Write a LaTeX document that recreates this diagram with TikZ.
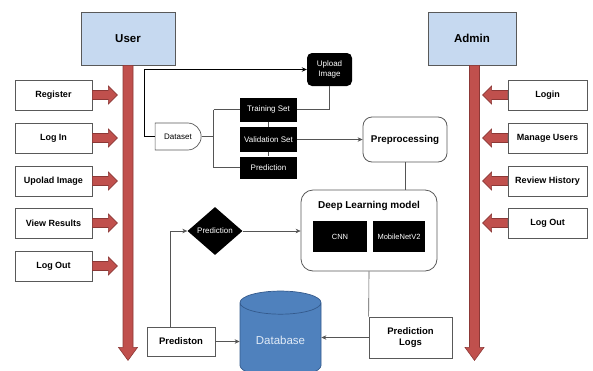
\documentclass[tikz,border=0pt]{standalone}
\usepackage{fontspec}
\setmainfont{Liberation Sans}
\usepackage{tikz}
\usetikzlibrary{arrows.meta,calc,shapes.geometric,shapes.misc}
\definecolor{roleblue}{RGB}{198,217,240}
\definecolor{barred}{RGB}{192,80,77}
\definecolor{bardark}{RGB}{140,56,54}
\definecolor{dbblue}{RGB}{79,129,189}
\definecolor{dbedge}{RGB}{52,90,140}
\definecolor{dbtext}{RGB}{225,235,247}
\definecolor{linegray}{RGB}{85,85,85}

\tikzset{
  rolebox/.style={draw=black!65,fill=roleblue,line width=0.8pt,minimum height=53pt,inner sep=0pt,font=\fontsize{11.5}{13}\selectfont\bfseries},
  usecase/.style={draw=black!65,fill=white,line width=0.7pt,minimum height=30pt,inner sep=0pt,font=\fontsize{9}{11}\selectfont\bfseries},
  blackbox/.style={fill=black,text=white,minimum width=57pt,minimum height=24pt,inner sep=0pt,font=\fontsize{8}{9.5}\selectfont},
  softbox/.style={draw=black!65,fill=white,line width=0.8pt,inner sep=0pt},
  flow/.style={draw=linegray,line width=0.6pt},
  redarrow/.style={draw=bardark,fill=barred,line width=0.6pt},
}

\begin{document}
\begin{tikzpicture}[x=1pt,y=-1pt,>={Stealth[length=5pt,width=4.5pt]}]
    \useasboundingbox (0,0) rectangle (593,370);

    % Actors
    \node[rolebox,minimum width=94pt] (user) at (128,38.5) {User};
    \node[rolebox,minimum width=88pt] (admin) at (472,38.5) {Admin};

    % Life lines
    \draw[redarrow] ($(user.south)+(-5,0)$) -- ++(0,282) -- ++(-4.5,0) -- ++(9.5,13) -- ++(9.5,-13) -- ++(-4.5,0) -- ++(0,-282) -- cycle;
    \draw[redarrow] ($(admin.south)+(-2.5,0)$) -- ++(0,282) -- ++(-4.5,0) -- ++(9.5,13) -- ++(9.5,-13) -- ++(-4.5,0) -- ++(0,-282) -- cycle;

    % User actions
    \node[usecase,minimum width=77pt] (reg) at (53.5,95) {Register};
    \node[usecase,minimum width=77pt] (login) at (53.5,138) {Log In};
    \node[usecase,minimum width=77pt] (upimg) at (53.5,181) {Upolad Image};
    \node[usecase,minimum width=77pt] (view) at (53.5,223) {View Results};
    \node[usecase,minimum width=77pt] (ulogout) at (53.5,266) {Log Out};

    \draw[redarrow] ($(reg.east)+(0,-4.5)$) -- ++(16,0) -- ++(0,-4.5) -- ++(9,9) -- ++(-9,9) -- ++(0,-4.5) -- ++(-16,0) -- cycle;
    \draw[redarrow] ($(login.east)+(0,-4.5)$) -- ++(16,0) -- ++(0,-4.5) -- ++(9,9) -- ++(-9,9) -- ++(0,-4.5) -- ++(-16,0) -- cycle;
    \draw[redarrow] ($(upimg.east)+(0,-4.5)$) -- ++(16,0) -- ++(0,-4.5) -- ++(9,9) -- ++(-9,9) -- ++(0,-4.5) -- ++(-16,0) -- cycle;
    \draw[redarrow] ($(view.east)+(0,-4.5)$) -- ++(16,0) -- ++(0,-4.5) -- ++(9,9) -- ++(-9,9) -- ++(0,-4.5) -- ++(-16,0) -- cycle;
    \draw[redarrow] ($(ulogout.east)+(0,-4.5)$) -- ++(16,0) -- ++(0,-4.5) -- ++(9,9) -- ++(-9,9) -- ++(0,-4.5) -- ++(-16,0) -- cycle;

    % Admin actions
    \node[usecase,minimum width=79pt] (alogin) at (547.5,95) {Login};
    \node[usecase,minimum width=79pt] (manage) at (547.5,138) {Manage Users};
    \node[usecase,minimum width=79pt] (review) at (547.5,181) {Review History};
    \node[usecase,minimum width=79pt] (alogout) at (547.5,223) {Log Out};

    \draw[redarrow] ($(alogin.west)+(0,-4.5)$) -- ++(-16,0) -- ++(0,-4.5) -- ++(-9,9) -- ++(9,9) -- ++(0,-4.5) -- ++(16,0) -- cycle;
    \draw[redarrow] ($(manage.west)+(0,-4.5)$) -- ++(-16,0) -- ++(0,-4.5) -- ++(-9,9) -- ++(9,9) -- ++(0,-4.5) -- ++(16,0) -- cycle;
    \draw[redarrow] ($(review.west)+(0,-4.5)$) -- ++(-16,0) -- ++(0,-4.5) -- ++(-9,9) -- ++(9,9) -- ++(0,-4.5) -- ++(16,0) -- cycle;
    \draw[redarrow] ($(alogout.west)+(0,-4.5)$) -- ++(-16,0) -- ++(0,-4.5) -- ++(-9,9) -- ++(9,9) -- ++(0,-4.5) -- ++(16,0) -- cycle;

    % Data preparation
    \node[draw=black!65,fill=white,line width=0.7pt,rounded rectangle,rounded rectangle left arc=none,minimum width=46pt,minimum height=27pt,inner sep=0pt,font=\fontsize{8}{9.5}\selectfont] (ds) at (178,136.5) {Dataset};
    \node[blackbox,rounded corners=5pt,minimum width=45pt,minimum height=33pt,align=center] (upload) at (329.5,69.5) {Upload\\Image};
    \node[blackbox] (train) at (268.5,109.5) {Training Set};
    \node[blackbox,minimum height=25pt] (valid) at (268.5,139.5) {Validation Set};
    \node[blackbox,minimum height=22pt] (predset) at (268.5,167.5) {Prediction};

    \draw[black,line width=1.3pt,->] (ds.west) -- ++(-10,0) |- (upload.west);
    \draw[flow] (ds.east) -- ++(12,0) coordinate (split);
    \draw[flow] (split |- train.west) -- (split |- predset.west);
    \draw[flow] (split |- train.west) -- (train.west);
    \draw[flow] (split |- predset.west) -- (predset.west);
    \draw[flow] (train.south) -- (valid.north);
    \draw[flow] (valid.south) -- (predset.north);
    \draw[flow] (train.east) -| (upload.south);

    % Model
    \node[softbox,rounded corners=9pt,minimum width=84pt,minimum height=45pt,font=\fontsize{9.8}{12}\selectfont\bfseries] (prep) at (405,139.5) {Preprocessing};
    \node[softbox,rounded corners=12pt,minimum width=136pt,minimum height=81pt] (dl) at (369,230.5) {};
    \node[font=\fontsize{10}{12}\selectfont\bfseries] (dltitle) at (369,206) {Deep Learning model};
    \node[blackbox,minimum width=54pt,minimum height=31pt,font=\fontsize{7.5}{9}\selectfont] (cnn) at (340,236.5) {CNN};
    \node[blackbox,minimum width=52pt,minimum height=31pt,font=\fontsize{7.5}{9}\selectfont] (mnet) at (399,236.5) {MobileNetV2};

    \draw[flow,->] (valid.east) -- (valid.east -| prep.west);
    \draw[flow] (prep.south) -- (prep.south |- dl.north);

    % Prediction and storage
    \node[diamond,fill=black,text=white,minimum width=55pt,minimum height=48pt,inner sep=0pt,font=\fontsize{8}{9.5}\selectfont] (decide) at (215,231) {Prediction};
    \node[usecase,minimum width=68pt,minimum height=29pt,font=\fontsize{9.5}{11}\selectfont\bfseries] (predst) at (181,341.5) {Prediston};
    \node[usecase,minimum width=83pt,minimum height=41pt,align=center,font=\fontsize{9.5}{11.5}\selectfont\bfseries] (logs) at (410.5,337.5) {Prediction\\Logs};
    \node[cylinder,shape border rotate=90,draw=dbedge,fill=dbblue,line width=0.7pt,minimum width=81pt,minimum height=86pt,aspect=0.47,inner sep=0pt,text=dbtext,font=\fontsize{11.5}{13}\selectfont] (db) at (280.5,340) {Database};

    \draw[flow,->] (decide.east) -- (decide.east -| dl.west);
    \draw[flow,->] ([xshift=-11pt]predst.north) |- (decide.west);
    \draw[flow,->] (predst.east) -- (predst.east -| db.west);
    \draw[flow] (dl.south) -- (logs.north west);
    \draw[flow,->] (logs.west) -- (logs.west -| db.east);
\end{tikzpicture}
\end{document}
